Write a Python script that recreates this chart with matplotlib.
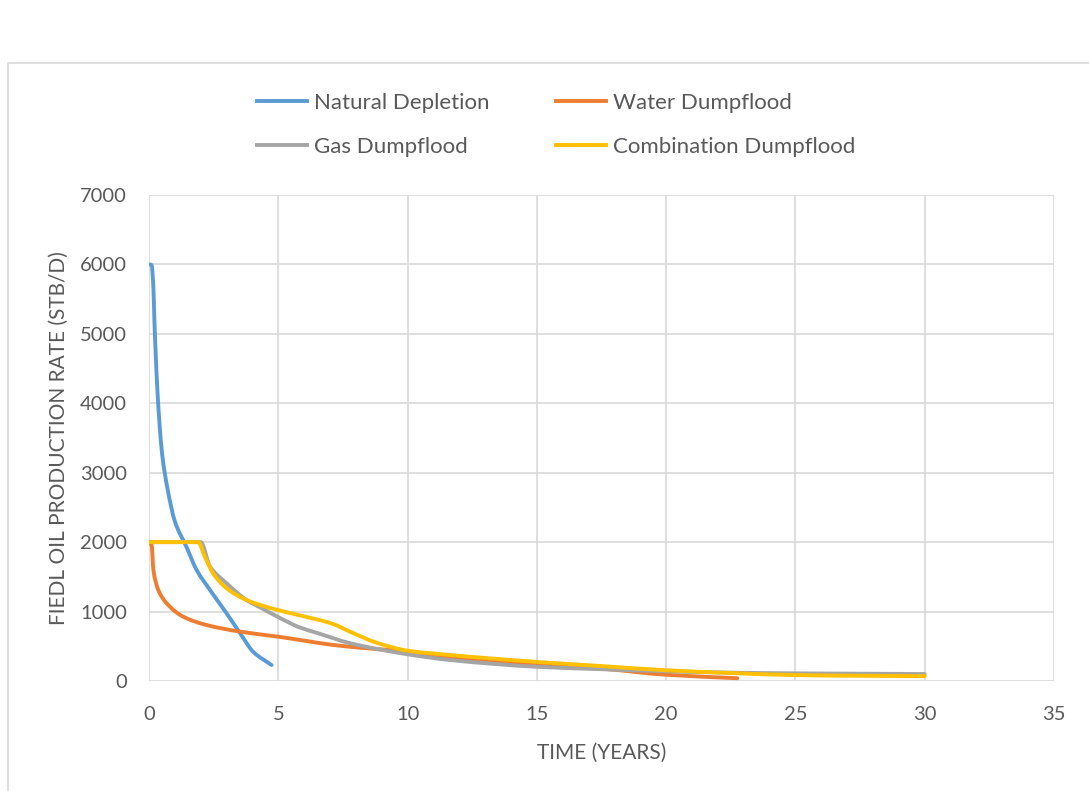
import numpy as np
import matplotlib.pyplot as plt
from matplotlib.patches import Rectangle, PathPatch
from matplotlib.path import Path

# Production profiles (years, STB/D)
natural_t = [0.05, 0.10, 0.17, 0.21, 0.26, 0.32, 0.40, 0.51, 0.71, 1.0, 1.45, 1.84, 2.36, 3.0, 3.52, 4.03, 4.74]
natural_q = [6000, 5990, 5660, 5180, 4700, 4220, 3740, 3260, 2780, 2300, 1930, 1600, 1310, 975, 690, 420, 230]

water_t = [0, 0.1, 0.17, 0.36, 0.68, 1.32, 2.22, 3.52, 5.0, 5.84, 7.12, 10.0, 11.63, 15, 17.5, 20, 22.75]
water_q = [2000, 1960, 1600, 1310, 1120, 927, 807, 711, 638, 591, 519, 420, 346, 235, 178, 90, 40]

gas_t = [0, 2.0, 2.36, 3.0, 3.77, 4.4, 5.0, 5.84, 6.48, 7.77, 10.0, 11.63, 15, 17.5, 20, 22.5, 25, 27.5, 30]
gas_q = [2000, 2000, 1647, 1408, 1167, 1040, 920, 770, 695, 545, 385, 303, 205, 170, 140, 120, 110, 105, 100]

combo_t = [0, 1.9, 2.16, 2.48, 3.0, 3.77, 4.8, 5.84, 7.12, 7.77, 8.8, 10.0, 11.63, 15, 17.5, 20, 22.5, 25, 27.5, 30]
combo_q = [2000, 2000, 1790, 1550, 1336, 1167, 1040, 945, 821, 711, 552, 437, 375, 275, 215, 155, 115, 85, 75, 70]

labels = ['Natural Depletion', 'Water Dumpflood', 'Gas Dumpflood', 'Combination Dumpflood']
colors = ['#5B9BD5', '#ED7D31', '#A5A5A5', '#FFC000']


def smooth_path(x, y):
    # bezier path through the points, monotone (pchip-style) tangents
    x = np.asarray(x, float)
    y = np.asarray(y, float)
    h = np.diff(x)
    d = np.diff(y) / h
    m = np.zeros_like(x)
    m[0], m[-1] = d[0], d[-1]
    for k in range(1, len(x) - 1):
        if d[k - 1] * d[k] > 0:
            w1 = 2 * h[k] + h[k - 1]
            w2 = h[k] + 2 * h[k - 1]
            m[k] = (w1 + w2) / (w1 / d[k - 1] + w2 / d[k])
    verts = [(x[0], y[0])]
    codes = [Path.MOVETO]
    for k in range(len(x) - 1):
        verts += [(x[k] + h[k] / 3, y[k] + m[k] * h[k] / 3),
                  (x[k + 1] - h[k] / 3, y[k + 1] - m[k + 1] * h[k] / 3),
                  (x[k + 1], y[k + 1])]
        codes += [Path.CURVE4] * 3
    return Path(verts, codes)


plt.rcParams['font.family'] = ['Lato', 'DejaVu Sans']
txt = '#595959'
W, H = 1089, 791
lw = 2.8

fig = plt.figure(figsize=(W / 100, H / 100), dpi=100)
ax = fig.add_axes([149 / W, 1 - 681 / H, (1054 - 149) / W, (681 - 195) / H])

# chart area border
fig.patches.append(Rectangle((8 / W, -0.05), 1.1, 1 - 63 / H + 0.05, transform=fig.transFigure,
                             fill=False, edgecolor='#d9d9d9', linewidth=1.2))

series = [(natural_t, natural_q), (water_t, water_q), (gas_t, gas_q), (combo_t, combo_q)]
handles = []
for (t, q), lab, c in zip(series, labels, colors):
    ax.add_patch(PathPatch(smooth_path(t, q), fill=False, edgecolor=c, linewidth=lw,
                           capstyle='round', joinstyle='round'))
    ln, = ax.plot([], [], color=c, linewidth=lw, label=lab)
    handles.append(ln)

ax.set_xlim(0, 35)
ax.set_ylim(0, 7000)
ax.set_xticks(range(0, 36, 5))
ax.set_yticks(range(0, 7001, 1000))
ax.grid(True, color='#d9d9d9', linewidth=1.2)
ax.set_axisbelow(True)
for s in ax.spines.values():
    s.set_visible(False)
ax.tick_params(length=0, labelsize=14.5, colors=txt)
ax.tick_params(axis='x', pad=18)
ax.tick_params(axis='y', pad=16)

ax.set_xlabel('TIME (YEARS)', fontsize=15, color=txt, labelpad=14)
ax.set_ylabel('FIEDL OIL PRODUCTION RATE (STB/D)', fontsize=15, color=txt, labelpad=8)

# legend filled column by column, so order gives two rows of two
order = [0, 2, 1, 3]
fig.legend(handles=[handles[i] for i in order], ncol=2, frameon=False,
           loc='center', bbox_to_anchor=(556 / W, 1 - 125 / H), fontsize=16,
           handlelength=2.25, handletextpad=0.3, columnspacing=3.0, labelspacing=1.1,
           labelcolor=txt)

fig.savefig('out.png', dpi=100)
